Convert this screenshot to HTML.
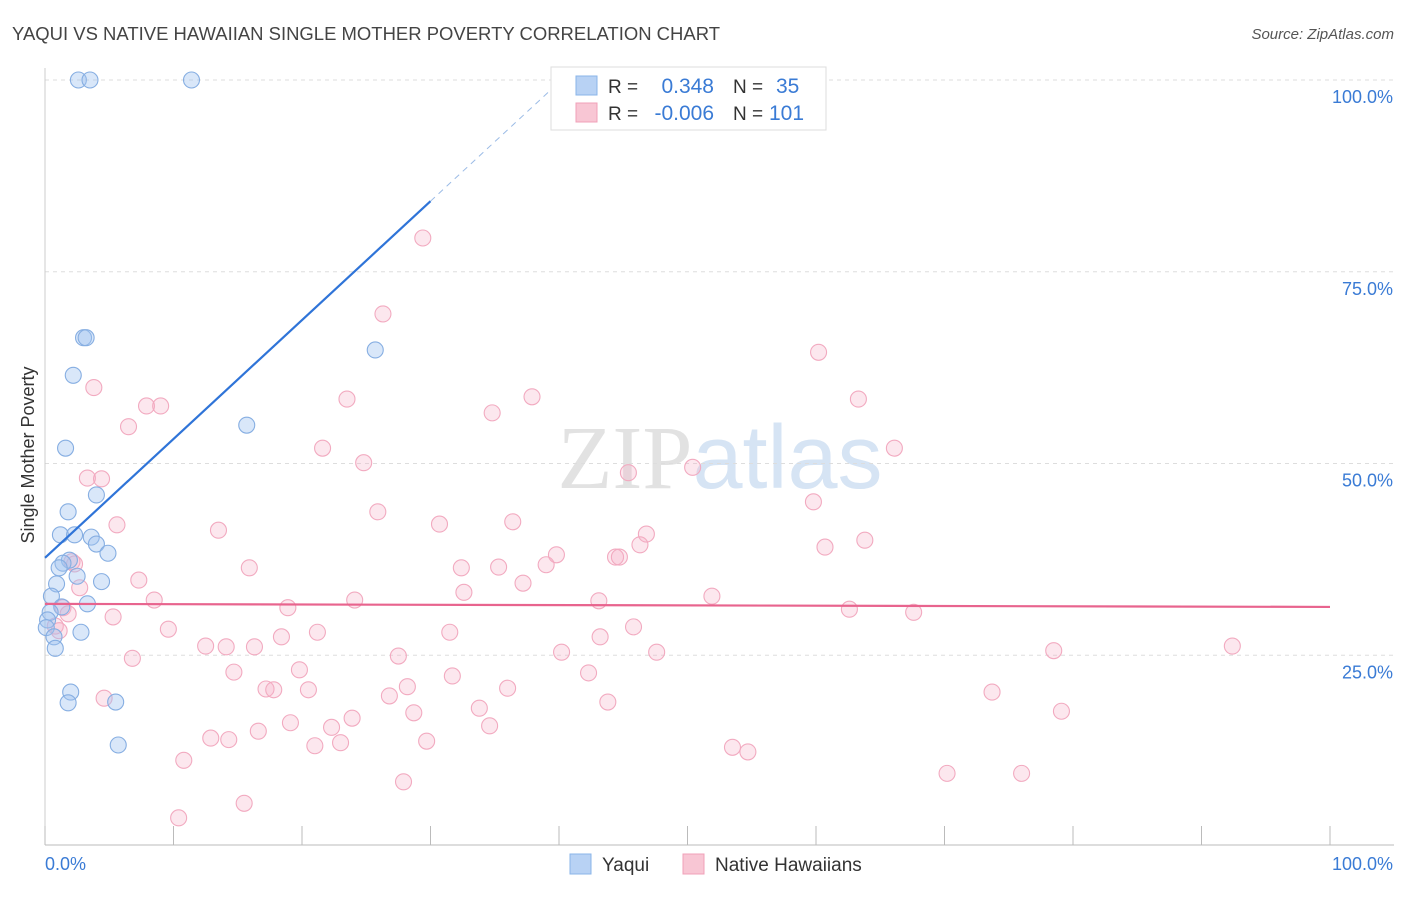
<!DOCTYPE html>
<html><head><meta charset="utf-8"><style>
body{margin:0;background:#fff;font-family:"Liberation Sans",sans-serif;}
</style></head><body>
<svg id="chart" width="1406" height="892" xmlns="http://www.w3.org/2000/svg" font-family="Liberation Sans, sans-serif">
<text x="12" y="40" font-size="18" fill="#444" textLength="708" lengthAdjust="spacingAndGlyphs">YAQUI VS NATIVE HAWAIIAN SINGLE MOTHER POVERTY CORRELATION CHART</text>
<text x="1394" y="39" font-size="15" fill="#555" text-anchor="end" font-style="italic">Source: ZipAtlas.com</text>
<text x="720" y="488" font-size="90" text-anchor="middle" fill="#e2e2e2" font-family="Liberation Serif, serif">ZIP<tspan fill="#d6e4f4" font-family="Liberation Sans, sans-serif">atlas</tspan></text>
<g id="grid"></g>
<g id="axes"></g>
<g id="pinkPts"></g>
<g id="bluePts"></g>
<g id="lines"></g>
<text transform="translate(34,455) rotate(-90)" font-size="18" fill="#333" text-anchor="middle">Single Mother Poverty</text>
<g>
<rect x="551" y="67" width="275" height="63" fill="#fff" stroke="#ddd"/>
<rect x="576" y="76" width="21" height="19" fill="#b8d2f4" stroke="#8ab4e8"/>
<rect x="576" y="103" width="21" height="19" fill="#f8c6d4" stroke="#f0a0b8"/>
<text x="608" y="93" font-size="19" fill="#333">R =</text>
<text x="714" y="93" font-size="21" fill="#3a7bd5" text-anchor="end">0.348</text>
<text x="733" y="93" font-size="19" fill="#333">N =</text>
<text x="776" y="93" font-size="21" fill="#3a7bd5">35</text>
<text x="608" y="120" font-size="19" fill="#333">R =</text>
<text x="714" y="120" font-size="21" fill="#3a7bd5" text-anchor="end">-0.006</text>
<text x="733" y="120" font-size="19" fill="#333">N =</text>
<text x="769" y="120" font-size="21" fill="#3a7bd5">101</text>
</g>
<g>
<rect x="570" y="854" width="21" height="20" fill="#b8d2f4" stroke="#8ab4e8"/>
<text x="602" y="871" font-size="19" fill="#333">Yaqui</text></g>
<g>
<rect x="683" y="854" width="21" height="20" fill="#f8c6d4" stroke="#f0a0b8"/>
<text x="715" y="871" font-size="19" fill="#333">Native Hawaiians</text></g>
</svg>
<script>
const yaquiX=[2.6,3.5,11.4,3.0,3.2,25.7,2.2,15.7,1.6,4.0,1.8,1.2,2.3,3.6,4.0,4.9,1.9,1.4,1.1,2.5,4.4,0.9,0.5,3.3,1.3,0.4,0.2,0.1,2.8,0.7,0.8,2.0,1.8,5.5,5.7];
const yaquiY=[100,100,100,66.4,66.4,64.8,61.5,55.0,52.0,45.9,43.7,40.7,40.7,40.4,39.5,38.3,37.4,37.0,36.4,35.3,34.6,34.3,32.7,31.7,31.3,30.6,29.6,28.6,28.0,27.4,25.9,20.2,18.8,18.9,13.3];
const hawX=[29.4,26.3,60.2,3.8,23.5,37.9,63.3,7.9,9.0,34.8,6.5,21.6,66.1,24.8,50.4,45.4,3.3,4.4,59.8,25.9,36.4,30.7,5.6,13.5,46.8,60.7,63.8,46.3,39.8,44.4,44.7,39.0,15.9,32.4,35.3,7.3,2.1,2.3,37.2,2.7,32.6,8.5,24.1,51.9,43.1,18.9,1.4,62.6,67.6,5.3,1.8,0.8,1.1,9.6,45.8,21.2,31.5,18.4,43.2,12.5,14.1,16.3,40.2,47.6,78.5,92.4,27.5,6.8,19.8,14.7,31.7,42.3,17.2,17.8,20.5,28.2,36.0,26.8,4.6,73.7,43.8,33.8,79.1,28.7,23.9,19.1,34.6,16.6,22.3,12.9,14.3,29.7,23.0,21.0,53.5,54.7,10.8,70.2,76.0,27.9,15.5,10.4];
const hawY=[79.4,69.5,64.5,59.9,58.4,58.7,58.4,57.5,57.5,56.6,54.8,52.0,52.0,50.1,49.5,48.8,48.1,48.0,45.0,43.7,42.4,42.1,42.0,41.3,40.8,39.1,40.0,39.4,38.1,37.8,37.8,36.8,36.4,36.4,36.5,34.8,37.2,36.9,34.4,33.8,33.2,32.2,32.2,32.7,32.1,31.2,31.2,31.0,30.6,30.0,30.4,28.8,28.2,28.4,28.7,28.0,28.0,27.4,27.4,26.2,26.1,26.1,25.4,25.4,25.6,26.2,24.9,24.6,23.1,22.8,22.3,22.7,20.6,20.5,20.5,20.9,20.7,19.7,19.4,20.2,18.9,18.1,17.7,17.5,16.8,16.2,15.8,15.1,15.6,14.2,14.0,13.8,13.6,13.2,13.0,12.4,11.3,9.6,9.6,8.5,5.7,3.8];
const yTicks=[25,50,75,100];
const yTickLabels=["25.0%","50.0%","75.0%","100.0%"];
const xTicks=[0,10,20,30,40,50,60,70,80,90,100];
const yaquiTrend=[37.7,84.2,100];
const hawTrend=[31.7,31.3];
const NS="http://www.w3.org/2000/svg";
const X=v=>45+v*12.85, Y=v=>847-v*7.67;
function mk(tag,attrs,parent){const e=document.createElementNS(NS,tag);for(const k in attrs)e.setAttribute(k,attrs[k]);parent.appendChild(e);return e;}
const grid=document.getElementById('grid'),axes=document.getElementById('axes');
yTicks.forEach((t,i)=>{
 const l=mk('line',{x1:45,x2:1394,y1:Y(t),y2:Y(t),stroke:'#ddd','stroke-dasharray':'4,4'},grid);
 
 
 const tx=mk('text',{x:1393,y:Y(t)+23,'font-size':18,fill:'#3a7bd5','text-anchor':'end'},axes);
 tx.textContent=yTickLabels[i];
 
 
});
const ax=mk('line',{x1:45,x2:1394,y1:845,y2:845,stroke:'#bbb'},axes);


const ay=mk('line',{x1:45,x2:45,y1:68,y2:845,stroke:'#ccc'},axes);


xTicks.forEach(t=>{const l=mk('line',{x1:X(t),x2:X(t),y1:826,y2:845,stroke:'#bbb'},axes);
 
 });
const x0=mk('text',{x:45,y:870,'font-size':18,fill:'#3a7bd5'},axes);x0.textContent='0.0%';


const x1=mk('text',{x:1393,y:870,'font-size':18,fill:'#3a7bd5','text-anchor':'end'},axes);x1.textContent='100.0%';


const pp=document.getElementById('pinkPts');
hawX.forEach((v,i)=>{const c=mk('circle',{cx:X(v),cy:Y(hawY[i]),r:8,fill:'rgba(245,175,198,0.3)',stroke:'#f2aac0','stroke-width':1.1},pp);
 
 });
const bp=document.getElementById('bluePts');
yaquiX.forEach((v,i)=>{const c=mk('circle',{cx:X(v),cy:Y(yaquiY[i]),r:8,fill:'rgba(160,196,240,0.4)',stroke:'#86aee2','stroke-width':1.1},bp);
 
 });
const lg=document.getElementById('lines');
const slope=(yaquiTrend[1]-yaquiTrend[0])/30;
const xEnd=(yaquiTrend[2]-yaquiTrend[0])/slope;
const b1=mk('line',{x1:X(0),y1:Y(yaquiTrend[0]),x2:X(30),y2:Y(yaquiTrend[1]),stroke:'#2f74d8','stroke-width':2.2},lg);


const b2=mk('line',{x1:X(30),y1:Y(yaquiTrend[1]),x2:X(xEnd),y2:Y(yaquiTrend[2]),stroke:'#9bbbe6','stroke-width':1,'stroke-dasharray':'6,5'},lg);


const p1=mk('line',{x1:X(0),y1:Y(hawTrend[0]),x2:X(100),y2:Y(hawTrend[1]),stroke:'#e8648e','stroke-width':2.2},lg);


</script>
</body></html>
